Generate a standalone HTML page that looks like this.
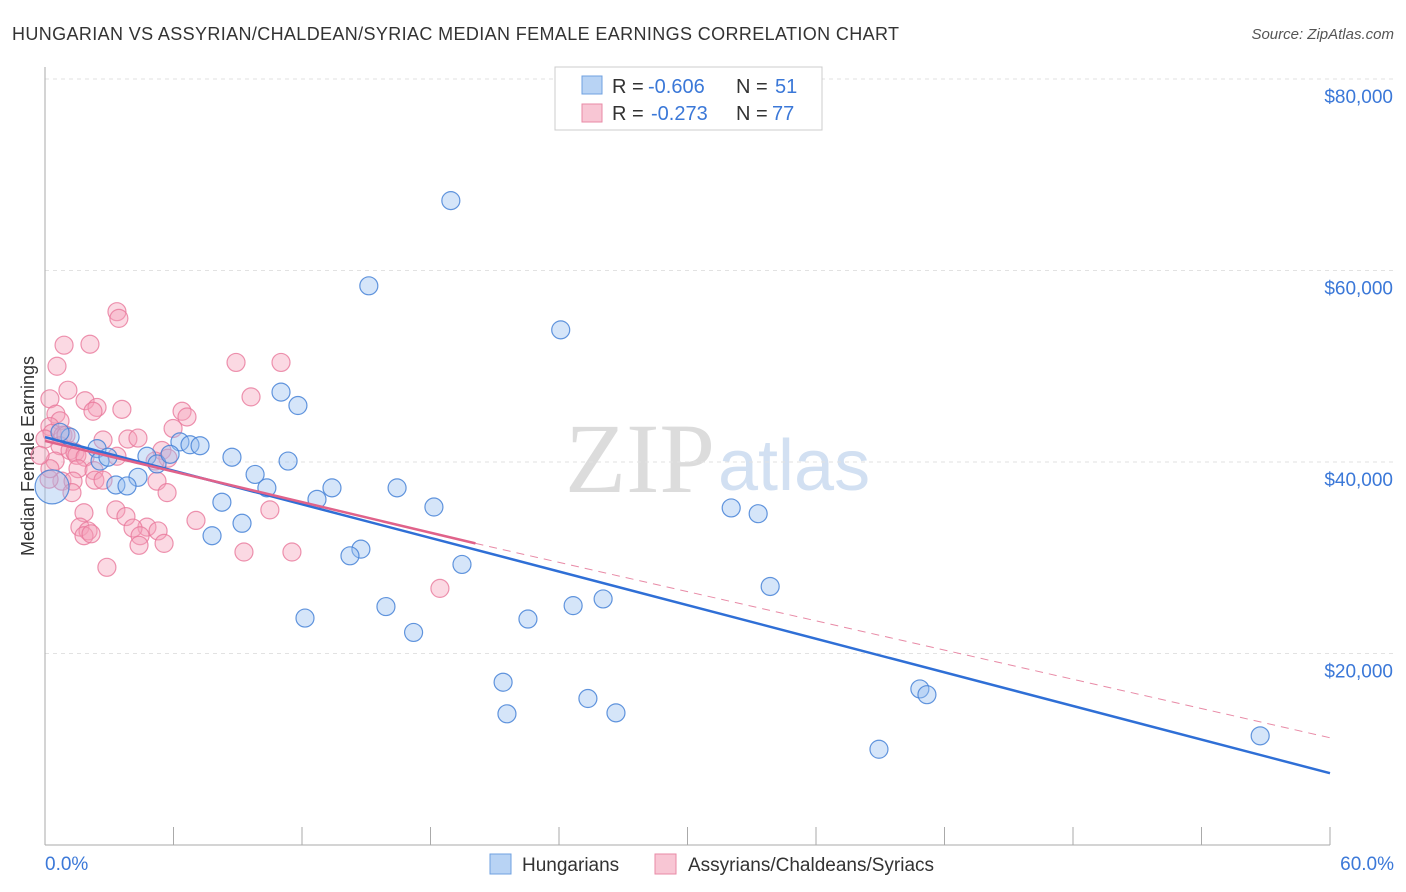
<!DOCTYPE html>
<html><head><meta charset="utf-8"><style>
body{margin:0;background:#fff;font-family:"Liberation Sans",sans-serif;}
svg{display:block}
</style></head><body>
<svg id="c" width="1406" height="892">
<text x="12" y="40" font-size="18" fill="#333" textLength="887">HUNGARIAN VS ASSYRIAN/CHALDEAN/SYRIAC MEDIAN FEMALE EARNINGS CORRELATION CHART</text>
<text x="1394" y="39" font-size="15" fill="#555" font-style="italic" text-anchor="end">Source: ZipAtlas.com</text>
<text x="715" y="492" font-size="100" fill="#dcdcdc" text-anchor="end" font-family="Liberation Serif">ZIP</text>
<text x="718" y="490" font-size="72" fill="#d2e0f2">atlas</text>
<text transform="translate(34,456) rotate(-90)" font-size="18" fill="#333" text-anchor="middle">Median Female Earnings</text>
<g id="grid"></g><g id="pts"></g><g id="lines"></g>
<g>
<rect x="555" y="67" width="267" height="63" fill="#fff" stroke="#ccc"/>
<rect x="582" y="76" width="20" height="18" fill="#b8d3f4" stroke="#6fa0e0"/>
<rect x="582" y="104" width="20" height="18" fill="#f8c6d4" stroke="#e88aa6"/>
<text x="612" y="93" font-size="20" fill="#333">R =</text>
<text x="648" y="93" font-size="20" fill="#3b78d8">-0.606</text>
<text x="736" y="93" font-size="20" fill="#333">N =</text>
<text x="775" y="93" font-size="20" fill="#3b78d8">51</text>
<text x="612" y="120" font-size="20" fill="#333">R =</text>
<text x="651" y="120" font-size="20" fill="#3b78d8">-0.273</text>
<text x="736" y="120" font-size="20" fill="#333">N =</text>
<text x="772" y="120" font-size="20" fill="#3b78d8">77</text>
</g>
<g>
<rect x="490" y="854" width="21" height="20" fill="#b8d3f4" stroke="#6fa0e0"/>
<text x="522" y="871" font-size="19" fill="#333">Hungarians</text>
<rect x="655" y="854" width="21" height="20" fill="#f8c6d4" stroke="#e88aa6"/>
<text x="688" y="871" font-size="19" fill="#333">Assyrians/Chaldeans/Syriacs</text>
</g>
<text x="45" y="870" font-size="19" fill="#3b78d8">0.0%</text>
<text x="1394" y="870" font-size="19" fill="#3b78d8" text-anchor="end">60.0%</text>
</svg>
<script>
const yTicks=[20000,40000,60000,80000];
const xTicks=[0,6,12,18,24,30,36,42,48,54,60];
const blueX=[18.95,15.12,24.08,11.02,11.81,6.3,6.77,7.24,2.43,4.76,5.23,8.73,11.35,9.81,4.34,3.31,3.83,10.36,13.4,16.44,8.26,12.7,18.16,9.2,7.8,14.75,14.24,19.47,32.04,33.3,33.86,26.06,24.66,15.92,12.14,22.55,17.21,21.39,21.57,25.35,26.66,38.94,40.85,41.18,56.74,0.33,1.17,0.7,2.57,5.84,2.94];
const blueY=[67300,58400,53800,47300,45900,42100,41800,41700,41400,40600,39800,40500,40100,38700,38400,37600,37500,37300,37300,37300,35800,36100,35300,33600,32300,30900,30200,29300,35200,34600,27000,25700,25000,24900,23700,23600,22200,17000,13700,15300,13800,10000,16300,15700,11400,37400,42600,43100,40100,40800,40500];
const pinkX=[3.36,3.45,0.89,2.1,0.56,8.92,11.02,1.07,0.23,1.87,9.62,2.43,3.59,2.24,6.4,6.63,0.51,0.7,0.23,5.98,0.33,0.84,2.71,3.87,4.34,0.7,1.17,1.4,1.49,5.46,5.74,1.87,3.36,5.14,1.54,2.29,0.79,1.31,2.33,2.71,5.23,0.19,1.26,5.7,10.5,3.31,3.78,1.82,7.05,4.76,4.11,5.28,1.63,2.01,1.82,4.44,2.15,4.39,5.56,9.29,11.53,2.89,18.44,0.47,0,0.23,0.98,-0.23];
const pinkY=[55700,55000,52200,52300,50000,50400,50400,47500,46600,46400,46800,45700,45500,45300,45300,44700,45000,44300,43700,43500,43000,42800,42300,42400,42500,41700,41200,41000,40700,41200,40400,40500,40600,40100,39300,39100,38000,38000,38100,38100,38000,38200,36800,36800,35000,35000,34300,34700,33900,33200,33100,32800,33200,32800,32300,32300,32500,31300,31500,30600,30600,29000,26800,40100,42400,39300,42800,40700];
const blueLine=[[0,42600],[60,7500]];
const pinkSolid=[[0,42200],[20.1,31500]];
const pinkDash=[[20.1,31500],[60,11200]];
const X0=45,X1=1330,Y0=845,PX=191.5/20000;
const sx=v=>X0+(v/60)*(X1-X0), sy=v=>Y0-v*PX;
const NS="http://www.w3.org/2000/svg";
function mk(t,a,p){const e=document.createElementNS(NS,t);for(const k in a)e.setAttribute(k,a[k]);p.appendChild(e);return e;}
const grid=document.getElementById('grid');
for(const t of yTicks){
 const l=mk('line',{x1:X0,x2:1394,y1:sy(t),y2:sy(t),stroke:'#e2e2e2','stroke-dasharray':'4,4'},grid);
 
 
 const tx=mk('text',{x:1393,y:sy(t)+24,'font-size':19,fill:'#3b78d8','text-anchor':'end'},grid);
 tx.textContent='$'+t.toLocaleString('en-US');
 
 
}
const ax=mk('line',{x1:X0,x2:X0,y1:67,y2:Y0,stroke:'#aaa'},grid);


const bx=mk('line',{x1:X0,x2:X1,y1:Y0,y2:Y0,stroke:'#aaa'},grid);


for(const t of xTicks){
 const l=mk('line',{x1:sx(t),x2:sx(t),y1:Y0-18,y2:Y0,stroke:'#aaa'},grid);
 
 
}
const pts=document.getElementById('pts');
pinkX.forEach((x,i)=>{
 const c=mk('circle',{cx:sx(x),cy:sy(pinkY[i]),r:9,fill:'rgba(244,160,186,0.4)',stroke:'rgba(232,120,155,0.8)','stroke-width':1.2},pts);
 
 
});
blueX.forEach((x,i)=>{
 const c=mk('circle',{cx:sx(x),cy:sy(blueY[i]),r:i==45?17:9,fill:'rgba(150,190,240,0.4)',stroke:'rgba(70,130,215,0.85)','stroke-width':1.2},pts);
 
 
});
const lines=document.getElementById('lines');
let l=mk('line',{x1:sx(blueLine[0][0]),y1:sy(blueLine[0][1]),x2:sx(blueLine[1][0]),y2:sy(blueLine[1][1]),stroke:'#2f6fd6','stroke-width':2.5},lines);


l=mk('line',{x1:sx(pinkSolid[0][0]),y1:sy(pinkSolid[0][1]),x2:sx(pinkSolid[1][0]),y2:sy(pinkSolid[1][1]),stroke:'#e0628a','stroke-width':2.5},lines);


l=mk('line',{x1:sx(pinkDash[0][0]),y1:sy(pinkDash[0][1]),x2:sx(pinkDash[1][0]),y2:sy(pinkDash[1][1]),stroke:'#e88aa6','stroke-width':1,'stroke-dasharray':'8,6'},lines);


</script>
</body></html>
